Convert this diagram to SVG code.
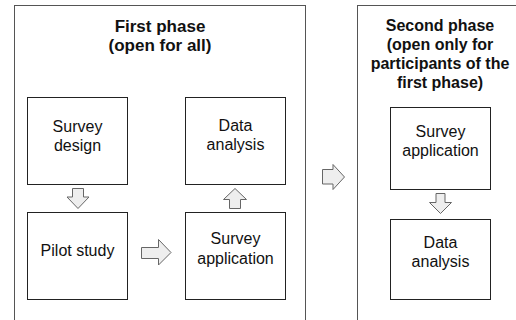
<svg xmlns="http://www.w3.org/2000/svg" width="516" height="320" viewBox="0 0 516 320">
<style>
.frame{fill:#fff;stroke:#555;stroke-width:1}
.box{fill:#fff;stroke:#222;stroke-width:1}
.arr{fill:#eeeeee;stroke:#666;stroke-width:1;stroke-linejoin:miter}
.t{font-family:"Liberation Sans",Arial,sans-serif;font-size:16px;fill:#111;text-anchor:middle}
.h1{font-family:"Liberation Sans",Arial,sans-serif;font-size:17px;font-weight:bold;fill:#111;text-anchor:middle}
.h2{font-family:"Liberation Sans",Arial,sans-serif;font-size:16px;font-weight:bold;fill:#111;text-anchor:middle}
</style>
<rect width="516" height="320" fill="#fff"/>
<g id="phase1">
<rect class="frame" x="14.5" y="5.5" width="291" height="330"/>
<text class="h1" x="160" y="32">First phase</text>
<text class="h1" x="160" y="51">(open for all)</text>
</g>
<g id="phase2">
<rect class="frame" x="357.5" y="5.5" width="166" height="330"/>
<text class="h2" x="440" y="31">Second phase</text>
<text class="h2" x="440" y="50">(open only for</text>
<text class="h2" x="440" y="69">participants of the</text>
<text class="h2" x="440" y="88">first phase)</text>
</g>
<g id="survey-design">
<rect class="box" x="27.5" y="97.5" width="100" height="87"/>
<text class="t" x="77.5" y="131.5">Survey</text>
<text class="t" x="77.5" y="150.5">design</text>
</g>
<g id="data-analysis-1">
<rect class="box" x="185.5" y="97.5" width="100" height="87"/>
<text class="t" x="235.5" y="131">Data</text>
<text class="t" x="235.5" y="150">analysis</text>
</g>
<g id="pilot-study">
<rect class="box" x="27.5" y="212.5" width="100" height="87"/>
<text class="t" x="77.5" y="256">Pilot study</text>
</g>
<g id="survey-application-1">
<rect class="box" x="185.5" y="212.5" width="100" height="87"/>
<text class="t" x="235.5" y="244">Survey</text>
<text class="t" x="235.5" y="263.5">application</text>
</g>
<g id="survey-application-2">
<rect class="box" x="390.5" y="107.5" width="100" height="82"/>
<text class="t" x="440.5" y="137">Survey</text>
<text class="t" x="440.5" y="156">application</text>
</g>
<g id="data-analysis-2">
<rect class="box" x="390.5" y="219.5" width="100" height="80"/>
<text class="t" x="440.5" y="247.5">Data</text>
<text class="t" x="440.5" y="267">analysis</text>
</g>
<g id="connectors">
<polygon class="arr" points="72.5,188.5 83.5,188.5 83.5,197 89,197 78,208.5 67,197 72.5,197"/>
<polygon class="arr" points="229.5,208.5 240.5,208.5 240.5,199.5 246.5,199.5 235,188.5 223.5,199.5 229.5,199.5"/>
<polygon class="arr" points="141.5,247.5 158.5,247.5 158.5,239.5 171,252.5 158.5,265 158.5,258.5 141.5,258.5"/>
<polygon class="arr" points="322.5,169.5 333,169.5 333,164.5 344.5,177 333,189.5 333,184 322.5,184"/>
<polygon class="arr" points="436,193.5 445,193.5 445,202.5 451.5,202.5 440.5,213.5 429.5,202.5 436,202.5"/>
</g>
</svg>
